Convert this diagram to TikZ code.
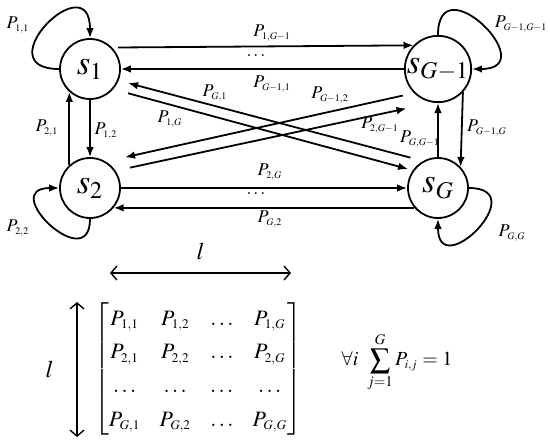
\documentclass[tikz,border=0pt]{standalone}
\usepackage{amsmath}
\usepackage{mathptmx}
\usetikzlibrary{arrows.meta}
\newcommand{\trp}[1]{P_{\scriptscriptstyle #1}}

\begin{document}
\begin{tikzpicture}[x=0.5pt,y=-0.5pt,line width=0.9pt,
  st/.style={circle,draw,minimum size=30pt,inner sep=0pt,font=\LARGE},
  tr/.style={-{Latex[length=5pt,width=3.8pt]}},
  lb/.style={inner sep=1pt,font=\small},
  lenarrow/.style={{Straight Barb[length=3pt,width=7pt]}-{Straight Barb[length=3pt,width=7pt]},line width=0.7pt},
]
\useasboundingbox (0,0) rectangle (550,444);

\node[st] (s1)  at (90,69)   {$s_1$};
\node[st] (s2)  at (90,188)  {$s_2$};
\node[st] (sg1) at (438,69)  {$s_{G-1}$};
\node[st] (sg)  at (438,188) {$s_G$};

% self loops
\draw[tr] (s1.west) .. controls +(-75,0) and +(0,-75) .. (s1.north);
\draw[tr] (s2.south) .. controls +(0,58) and +(-62,0) .. (s2.west);
\draw[tr] (sg1.north) .. controls +(0,-72) and +(72,0) .. (sg1.east);
\draw[tr] (sg.east) .. controls +(65,0) and +(0,65) .. (sg.south);

% horizontal and vertical
\draw[tr,shorten <=3pt] (s1.44) -- (sg1.136);
\draw[tr] (sg1.west) -- (s1.east);
\draw[tr] (s2.east) -- (sg.west);
\draw[tr] (sg.220) -- (s2.-40);
\draw[tr] (s2.132) -- (s1.228);
\draw[tr] (s1.south) -- (s2.north);
\draw[tr] (sg.north) -- (sg1.south);
\draw[tr] (sg1.-43) -- (sg.43);

% diagonals
\draw[tr,shorten <=6.5pt,shorten >=4.9pt] (sg.119) -- (s1.-22);
\draw[tr,shorten <=7.6pt,shorten >=2.4pt] (s1.-41) -- (sg.145);
\draw[tr,shorten <=5.7pt,shorten >=9.8pt] (sg1.225) -- (s2.59);
\draw[tr,shorten <=7.3pt,shorten >=13.7pt] (s2.34) -- (sg1.262);

% transition labels
\node[lb] (p11)   at (18,25)  {$\trp{1,1}$};
\node[lb] (pgg1)  at (521,24) {$\trp{G-1,G-1}$};
\node[lb] (p1g1)  at (272,33) {$\trp{1,G-1}$};
\node[lb] (dtop)  at (256,56) {$\ldots$};
\node[lb] (pg11)  at (272,84) {$\trp{G-1,1}$};
\node[lb] (p21)   at (47,128) {$\trp{2,1}$};
\node[lb] (p12)   at (106,131) {$\trp{1,2}$};
\node[lb] (pg1)   at (215,93) {$\trp{G,1}$};
\node[lb] (p1g)   at (170,119) {$\trp{1,G}$};
\node[lb] (pg12)  at (330,95) {$\trp{G-1,2}$};
\node[lb] (p2g1)  at (380,125) {$\trp{2,G-1}$};
\node[lb] (pggm)  at (420,139) {$\trp{G,G-1}$};
\node[lb] (pg1g)  at (487,128) {$\trp{G-1,G}$};
\node[lb] (p2g)   at (270,172) {$\trp{2,G}$};
\node[lb] (dbot)  at (256,194) {$\ldots$};
\node[lb] (pg2)   at (270,219) {$\trp{G,2}$};
\node[lb] (p22)   at (18,228) {$\trp{2,2}$};
\node[lb] (pgg)   at (512,233) {$\trp{G,G}$};

% matrix and its size
\coordinate (hl) at (110,273);
\coordinate (hr) at (291,273);
\draw[lenarrow] (hl) -- (hr) node[midway,above=3pt,font=\large] (lh) {$l$};
\coordinate (vt) at (77,302);
\coordinate (vb) at (77,437);
\draw[lenarrow] (vt) -- (vb) node[midway,left=8pt,font=\large] (lv) {$l$};

\node[font=\fontsize{11pt}{13pt}\selectfont] (mat) at (198,369)
  {$\renewcommand{\arraystretch}{1.3}\setlength{\arraycolsep}{4.8pt}\begin{bmatrix}
    \trp{1,1} & \trp{1,2} & \ldots & \trp{1,G}\\
    \trp{2,1} & \trp{2,2} & \ldots & \trp{2,G}\\
    \ldots  & \ldots  & \ldots & \ldots \\
    \trp{G,1} & \trp{G,2} & \ldots & \trp{G,G}
  \end{bmatrix}$};
\node[font=\normalsize] (sumeq) at (397,362)
  {$\displaystyle \forall i\ \sum_{j=1}^{G}\trp{i,j}=1$};
\end{tikzpicture}
\end{document}
